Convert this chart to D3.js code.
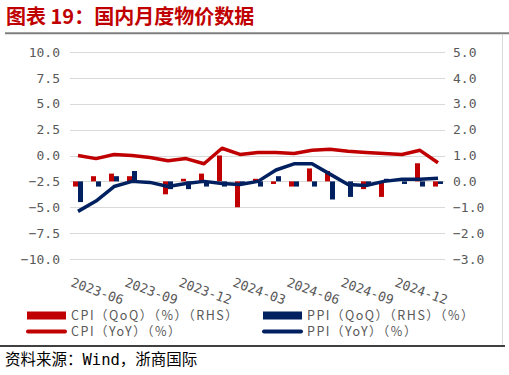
<!DOCTYPE html>
<html>
<head>
<meta charset="utf-8">
<script src="https://cdn.jsdelivr.net/npm/d3@7"></script>
<style>
  html, body { margin: 0; padding: 0; background: #fff; }
  svg text { font-family: "DejaVu Sans Mono", "Noto Sans CJK SC", sans-serif; }
  svg text.cjk { font-family: "Noto Sans CJK SC", "Noto Sans", sans-serif; }
</style>
</head>
<body>
<div id="chart"></div>
<script>
// months shown on the x axis (one point per month)
var months = ['2023-06','2023-07','2023-08','2023-09','2023-10','2023-11','2023-12',
              '2024-01','2024-02','2024-03','2024-04','2024-05','2024-06','2024-07',
              '2024-08','2024-09','2024-10','2024-11','2024-12','2025-01','2025-02'];
var tickMonths = ['2023-06','2023-09','2023-12','2024-03','2024-06','2024-09','2024-12'];

// left axis, yoy lines
var cpiYoY = [0.0,-0.3,0.1,0.0,-0.2,-0.5,-0.3,-0.8,0.7,0.1,0.3,0.3,0.2,0.5,0.6,0.4,0.3,0.2,0.1,0.5,-0.7];
var ppiYoY = [-5.4,-4.4,-3.0,-2.5,-2.6,-3.0,-2.7,-2.5,-2.7,-2.8,-2.5,-1.4,-0.8,-0.8,-1.8,-2.8,-2.9,-2.5,-2.3,-2.3,-2.2];
// right axis, month on month bars
var cpiQoQ = [-0.2,0.2,0.3,0.2,-0.1,-0.5,0.1,0.3,1.0,-1.0,0.1,-0.1,-0.2,0.5,0.4,0.0,-0.3,-0.6,0.0,0.7,-0.2];
var ppiQoQ = [-0.8,-0.2,0.2,0.4,0.0,-0.3,-0.3,-0.2,-0.2,-0.1,-0.2,0.2,-0.2,-0.2,-0.7,-0.6,-0.1,0.1,-0.1,-0.2,-0.1];

var leftTicks = [10,7.5,5,2.5,0,-2.5,-5,-7.5,-10];
var rightTicks = [5,4,3,2,1,0,-1,-2,-3];

var red = '#c00000', navy = '#002060', grey = '#595959';

var W = 509, H = 375;
var svg = d3.select('#chart').append('svg')
    .attr('width', W).attr('height', H);

// title + rules
svg.append('text')
    .attr('class', 'cjk')
    .attr('x', 6).attr('y', 24)
    .attr('fill', red)
    .style('font-size', '20px').style('font-weight', 'bold')
    .text('图表 19：国内月度物价数据');
svg.append('line').attr('x1', 5).attr('x2', 509).attr('y1', 33.3).attr('y2', 33.3)
    .attr('stroke', '#808080').attr('stroke-width', 2);
svg.append('line').attr('x1', 502.5).attr('x2', 502.5).attr('y1', 34).attr('y2', 345)
    .attr('stroke', '#d9d9d9').attr('stroke-width', 1);
svg.append('line').attr('x1', 0).attr('x2', 505).attr('y1', 346).attr('y2', 346)
    .attr('stroke', '#404040').attr('stroke-width', 2);

//scales
var x = d3.scalePoint().domain(months).range([78, 438]);
var yL = d3.scaleLinear().domain([-10, 10]).range([259, 52]);
var yR = d3.scaleLinear().domain([-3, 5]).range([259, 52]);
var sub = d3.scaleBand().domain(['cpi', 'ppi']).range([-5, 5]);

// grid
svg.append('g').selectAll('line')
    .data(leftTicks).enter().append('line')
    .attr('x1', 70).attr('x2', 445)
    .attr('y1', function(d){ return Math.round(yL(d)) + 0.5; })
    .attr('y2', function(d){ return Math.round(yL(d)) + 0.5; })
    .attr('stroke', '#d9d9d9').attr('stroke-width', 1);

// axis labels
var fmt = d3.format('.1f');
svg.append('g').selectAll('text')
    .data(leftTicks).enter().append('text')
    .attr('x', 60).attr('y', function(d){ return yL(d); })
    .attr('dy', '0.36em').attr('text-anchor', 'end')
    .attr('fill', grey).style('font-size', '13px')
    .text(function(d){ return fmt(d).replace('-', '−'); });
svg.append('g').selectAll('text')
    .data(rightTicks).enter().append('text')
    .attr('x', 453).attr('y', function(d){ return yR(d); })
    .attr('dy', '0.36em').attr('text-anchor', 'start')
    .attr('fill', grey).style('font-size', '13px')
    .text(function(d){ return fmt(d).replace('-', '−'); });

svg.append('g').selectAll('text')
    .data(tickMonths).enter().append('text')
    .attr('transform', function(d){ return 'translate(' + (x(d) - 8) + ',286) rotate(20)'; })
    .attr('fill', grey).style('font-size', '13px')
    .text(function(d){ return d; });

// bars
var bars = svg.append('g');
bars.selectAll('rect.cpi')
    .data(cpiQoQ).enter().append('rect')
    .attr('class', 'cpi')
    .attr('x', function(d, i){ return x(months[i]) + sub('cpi'); })
    .attr('width', sub.bandwidth())
    .attr('y', function(d){ return yR(Math.max(0, d)); })
    .attr('height', function(d){ return Math.abs(yR(d) - yR(0)); })
    .attr('fill', red);
bars.selectAll('rect.ppi')
    .data(ppiQoQ).enter().append('rect')
    .attr('class', 'ppi')
    .attr('x', function(d, i){ return x(months[i]) + sub('ppi'); })
    .attr('width', sub.bandwidth())
    .attr('y', function(d){ return yR(Math.max(0, d)); })
    .attr('height', function(d){ return Math.abs(yR(d) - yR(0)); })
    .attr('fill', navy);

// lines
var line = d3.line()
    .x(function(d, i){ return x(months[i]); })
    .y(function(d){ return yL(d); });
svg.append('path').datum(cpiYoY)
    .attr('d', line).attr('fill', 'none')
    .attr('stroke', red).attr('stroke-width', 3.5).attr('stroke-linejoin', 'round');
svg.append('path').datum(ppiYoY)
    .attr('d', line).attr('fill', 'none')
    .attr('stroke', navy).attr('stroke-width', 3.5).attr('stroke-linejoin', 'round');

// legend
var legend = [
    {label: 'CPI（QoQ）（%）（RHS）', color: red, type: 'bar', x: 27, y: 315.5},
    {label: 'CPI（YoY）（%）', color: red, type: 'line', x: 27, y: 331.5},
    {label: 'PPI（QoQ）（RHS）（%）', color: navy, type: 'bar', x: 263, y: 315.5},
    {label: 'PPI（YoY）（%）', color: navy, type: 'line', x: 263, y: 331.5}
];
var lg = svg.append('g').selectAll('g')
    .data(legend).enter().append('g')
    .attr('transform', function(d){ return 'translate(' + d.x + ',' + d.y + ')'; });
lg.filter(function(d){ return d.type == 'bar'; }).append('rect')
    .attr('x', 0).attr('y', -4).attr('width', 39).attr('height', 8)
    .attr('fill', function(d){ return d.color; });
lg.filter(function(d){ return d.type == 'line'; }).append('line')
    .attr('x1', 1).attr('x2', 38).attr('y1', 0).attr('y2', 0)
    .attr('stroke', function(d){ return d.color; })
    .attr('stroke-width', 4).attr('stroke-linecap', 'round');
lg.append('text')
    .attr('class', 'cjk')
    .attr('x', 44).attr('dy', '0.36em')
    .attr('fill', grey).style('font-size', '12.5px')
    .style('letter-spacing', '1.5px')
    .text(function(d){ return d.label; });

// source
svg.append('text')
    .attr('x', 5).attr('y', 365)
    .attr('fill', '#000').style('font-size', '15.5px')
    .text('资料来源：Wind，浙商国际');
</script>
</body>
</html>
